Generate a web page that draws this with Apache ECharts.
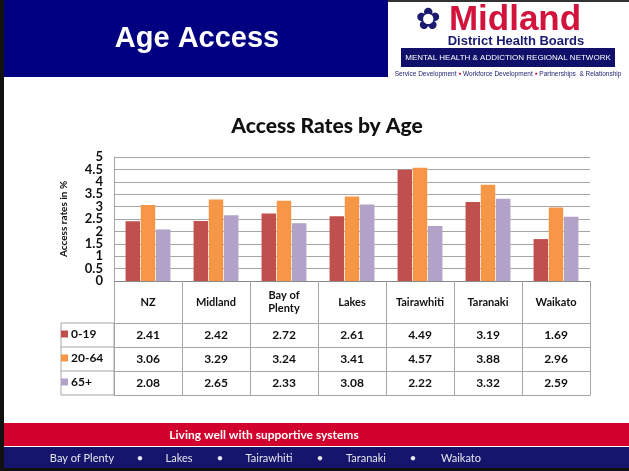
<!DOCTYPE html>
<html>
<head>
<meta charset="utf-8">
<script src="https://cdn.jsdelivr.net/npm/echarts@6/dist/echarts.min.js"></script>
<style>
  html, body { margin: 0; padding: 0; background: #fff; }
  #main { width: 629px; height: 471px; }
</style>
</head>
<body>
<div id="main"></div>
<script>
// 数据
const regions = ['NZ', 'Midland', 'Bay of\nPlenty', 'Lakes', 'Tairawhiti', 'Taranaki', 'Waikato']
const ageGroups = ['0-19', '20-64', '65+']
const age0to19 = [2.41, 2.42, 2.72, 2.61, 4.49, 3.19, 1.69]
const age20to64 = [3.06, 3.29, 3.24, 3.41, 4.57, 3.88, 2.96]
const age65plus = [2.08, 2.65, 2.33, 3.08, 2.22, 3.32, 2.59]
const yTicks = ['0', '0.5', '1', '1.5', '2', '2.5', '3', '3.5', '4', '4.5', '5']
const footerPlaces = ['Bay of Plenty', 'Lakes', 'Tairawhiti', 'Taranaki', 'Waikato']

const rows = [age0to19, age20to64, age65plus]
const colors = ['#C0504D', '#F79646', '#B3A2C7']
const lineColor = '#a6a6a6'
const cellFont = { fontFamily: 'Lato', fontWeight: 'bold', fontSize: 12, color: '#111' }

// 表格的行（用 x 轴来画）
const rowAxes = rows.map((vals, k) => ({
  type: 'category',
  gridIndex: 0,
  position: 'bottom',
  offset: 42 + k * 24,
  data: regions,
  axisLine: { show: true, lineStyle: { color: lineColor } },
  axisTick: { show: true, length: 24, interval: 0, lineStyle: { color: lineColor } },
  axisLabel: Object.assign({
    interval: 0, margin: 12, verticalAlign: 'middle',
    formatter: (v, i) => vals[i].toFixed(2)
  }, cellFont)
}))

// 页脚地名
const footerX = [82, 179, 269, 366, 461]
const bulletX = [140, 220, 320, 413]
const footerGraphics = footerPlaces.map((p, i) => ({
  type: 'text', x: footerX[i], y: 458,
  style: { text: p, fill: '#e6e6f0', font: '11px Lato', textAlign: 'center', textVerticalAlign: 'middle' }
})).concat(bulletX.map(x => ({
  type: 'text', x: x, y: 458,
  style: { text: '•', fill: '#e6e6f0', font: '12px Lato', textAlign: 'center', textVerticalAlign: 'middle' }
})))

this.charts = echarts.init(document.getElementById('main'))
this.charts.setOption({
  animation: false,
  textStyle: { fontFamily: 'Lato' },
  title: {
    text: 'Access Rates by Age',
    left: 322, top: 111, textAlign: 'center',
    textStyle: { fontFamily: 'Lato', fontWeight: 900, fontSize: 21, color: '#111' }
  },
  legend: ageGroups.map((g, k) => ({
    data: [g],
    left: 61, top: 328 + k * 24,
    padding: 0,
    icon: 'rect', itemWidth: 7, itemHeight: 7, itemGap: 3,
    textStyle: { fontFamily: 'Lato', fontWeight: 'bold', fontSize: 12, color: '#111', padding: [0, 0, 0, -2] }
  })),
  grid: { left: 114, top: 157, width: 476, height: 124 },
  xAxis: [
    {
      type: 'category',
      data: regions,
      axisLine: { show: true, lineStyle: { color: '#888' } },
      axisTick: { show: true, length: 42, interval: 0, lineStyle: { color: lineColor } },
      axisLabel: { interval: 0, margin: 21, verticalAlign: 'middle', lineHeight: 13, fontSize: 11,
        fontFamily: 'Lato', fontWeight: 'bold', color: '#111' }
    },
    ...rowAxes,
    {
      type: 'category',
      position: 'bottom',
      offset: 114,
      data: regions,
      axisLine: { show: true, lineStyle: { color: lineColor } },
      axisTick: { show: false },
      axisLabel: { show: false }
    }
  ],
  yAxis: [
    {
      type: 'value',
      min: 0, max: 5, interval: 0.5,
      name: 'Access rates in %',
      nameLocation: 'middle', nameGap: 45, nameRotate: 90,
      nameTextStyle: { fontFamily: 'Lato', fontWeight: 'bold', fontSize: 10, color: '#111' },
      axisLine: { show: true, lineStyle: { color: lineColor } },
      axisTick: { show: false },
      axisLabel: { show: false },
      splitLine: { lineStyle: { color: lineColor, width: 1 } }
    },
    {
      // 刻度文字（类目轴，保证全部显示）
      type: 'category',
      position: 'left',
      data: yTicks,
      boundaryGap: false,
      axisLine: { show: false },
      axisTick: { show: false },
      splitLine: { show: false },
      axisLabel: { interval: 0, margin: 11, fontFamily: 'Lato', fontWeight: 'bold', fontSize: 13, color: '#111' }
    }
  ],
  series: rows.map((vals, k) => ({
    name: ageGroups[k],
    type: 'bar',
    data: vals,
    yAxisIndex: 0,
    itemStyle: { color: colors[k] },
    barGap: '5%',
    barCategoryGap: '34%'
  })),
  graphic: [
    // 页眉
    { type: 'rect', shape: { x: 0, y: 0, width: 629, height: 2 }, style: { fill: '#333' } },
    { type: 'rect', shape: { x: 4, y: 0, width: 384, height: 77 }, style: { fill: '#000080' } },
    { type: 'rect', shape: { x: 0, y: 0, width: 4, height: 471 }, style: { fill: '#111' } },
    { type: 'text', x: 197, y: 39, style: { text: 'Age Access', fill: '#fff', font: 'bold 29px "Liberation Sans", Arial', textAlign: 'center', textVerticalAlign: 'middle' } },
    // logo
    { type: 'text', x: 428, y: 21, style: { text: '✿', fill: '#1a1a6e', font: '30px "DejaVu Sans"', textAlign: 'center', textVerticalAlign: 'middle' } },
    { type: 'text', x: 515, y: 20, style: { text: 'Midland', fill: '#D2143C', font: 'bold 35px "Liberation Sans", Arial', textAlign: 'center', textVerticalAlign: 'middle' } },
    { type: 'text', x: 516, y: 41, style: { text: 'District Health Boards', fill: '#1a1a6e', font: 'bold 13px "Liberation Sans", Arial', textAlign: 'center', textVerticalAlign: 'middle' } },
    { type: 'rect', shape: { x: 401, y: 48, width: 214, height: 19 }, style: { fill: '#10106a' } },
    { type: 'text', x: 508, y: 58, style: { text: 'MENTAL HEALTH & ADDICTION REGIONAL NETWORK', fill: '#fff', font: '8px "Liberation Sans Narrow", "Liberation Sans", Arial', textAlign: 'center', textVerticalAlign: 'middle' } },
    { type: 'text', x: 508, y: 74, style: {
      text: '{a|Service Development }{b|●}{a| Workforce Development }{b|●}{a| Partnerships  & Relationship}',
      textAlign: 'center', textVerticalAlign: 'middle',
      rich: {
        a: { fill: '#1a1a6e', font: '6.5px "Liberation Sans Narrow", "Liberation Sans", Arial' },
        b: { fill: '#D2143C', font: '5px "Liberation Sans"' }
      }
    } },
    // 表格左侧图例栏
    { type: 'rect', shape: { x: 61, y: 323, width: 53, height: 72 }, style: { fill: 'none', stroke: lineColor, lineWidth: 1 } },
    { type: 'line', shape: { x1: 61, y1: 347, x2: 114, y2: 347 }, style: { stroke: lineColor } },
    { type: 'line', shape: { x1: 61, y1: 371, x2: 114, y2: 371 }, style: { stroke: lineColor } },
    // 页脚
    { type: 'rect', shape: { x: 4, y: 423, width: 625, height: 23 }, style: { fill: '#D1002C' } },
    { type: 'rect', shape: { x: 4, y: 447, width: 625, height: 21 }, style: { fill: '#15156B' } },
    { type: 'rect', shape: { x: 0, y: 468, width: 629, height: 3 }, style: { fill: '#111' } },
    { type: 'text', x: 264, y: 435, style: { text: 'Living well with supportive systems', fill: '#fff', font: 'bold 12px Lato', textAlign: 'center', textVerticalAlign: 'middle' } },
    ...footerGraphics
  ]
})
</script>
</body>
</html>
